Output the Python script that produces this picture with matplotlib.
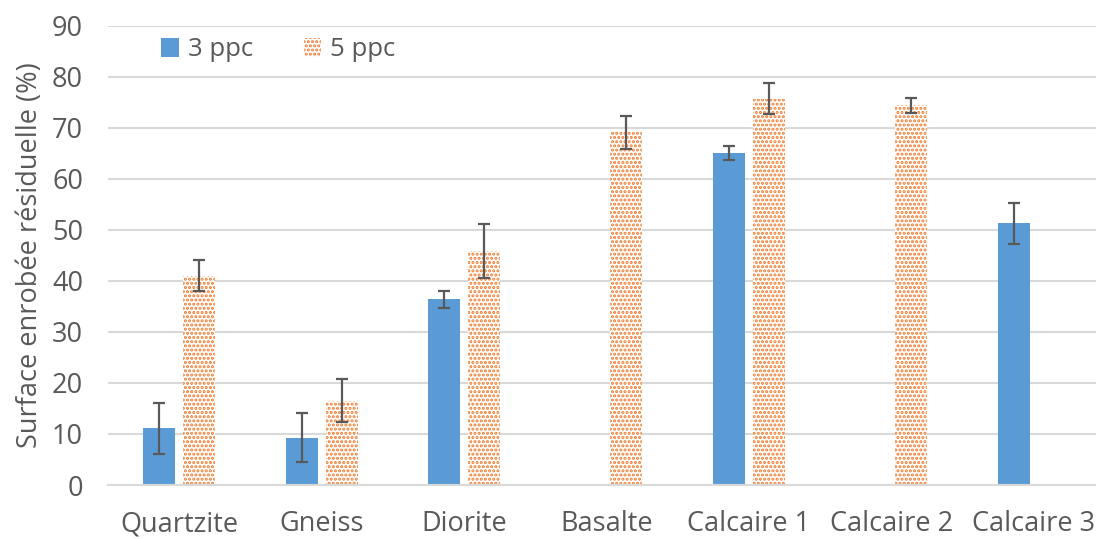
import matplotlib.pyplot as plt
import numpy as np

categories = ["Quartzite", "Gneiss", "Diorite", "Basalte", "Calcaire 1", "Calcaire 2", "Calcaire 3"]
ppc3 = [11.1, 9.3, 36.4, np.nan, 65.0, np.nan, 51.3]
ppc3_err = [5.0, 4.8, 1.7, np.nan, 1.4, np.nan, 4.0]
ppc5 = [41.0, 16.5, 45.9, 69.1, 75.7, 74.4, np.nan]
ppc5_err = [3.0, 4.2, 5.3, 3.2, 3.0, 1.5, np.nan]

plt.rcParams['font.family'] = ['Open Sans', 'DejaVu Sans']
plt.rcParams['hatch.linewidth'] = 1.5
txt = '#595959'
fs = 19.5

fig = plt.figure(figsize=(10.96, 5.39), dpi=100)
ax = fig.add_axes([108/1096, 54/539, 997/1096, 459.3/539])

x = np.arange(len(categories))
w = 0.225
off = 0.14

ax.bar(x - off, ppc3, w, color='#5B9BD5', label='3 ppc', zorder=2)
ax.bar(x + off, ppc5, w, facecolor='white', edgecolor='#ED7D31', hatch='....',
       linewidth=0, label='5 ppc', zorder=2)
ax.errorbar(x - off, ppc3, yerr=ppc3_err, fmt='none', ecolor='#595959',
            elinewidth=1.6, capsize=4.5, capthick=1.6, zorder=3)
ax.errorbar(x + off, ppc5, yerr=ppc5_err, fmt='none', ecolor='#595959',
            elinewidth=1.6, capsize=4.5, capthick=1.6, zorder=3)

ax.set_xlim(-0.5, len(categories) - 0.5)
ax.set_ylim(0, 90)
ax.set_yticks(range(0, 91, 10))
ax.set_xticks(x)
ax.set_xticklabels(categories)
ax.yaxis.grid(True, color='#D9D9D9', linewidth=1.5, zorder=0)
ax.set_axisbelow(True)
for s in ['top', 'right', 'left']:
    ax.spines[s].set_visible(False)
ax.spines['bottom'].set_color('#D9D9D9')
ax.spines['bottom'].set_linewidth(1.5)
ax.tick_params(length=0, labelsize=fs, colors=txt)
ax.tick_params(axis='x', pad=18)
ax.tick_params(axis='y', pad=18)
ax.set_ylabel('Surface enrobée résiduelle (%)', fontsize=fs, color=txt, labelpad=6)

ax.legend(loc='upper left', bbox_to_anchor=(0.03, 1.025), ncol=2, frameon=False,
          fontsize=18.5, labelcolor=txt, handlelength=0.68, handleheight=0.8,
          handletextpad=0.35, columnspacing=2.0)

fig.savefig('out.png', dpi=100)
